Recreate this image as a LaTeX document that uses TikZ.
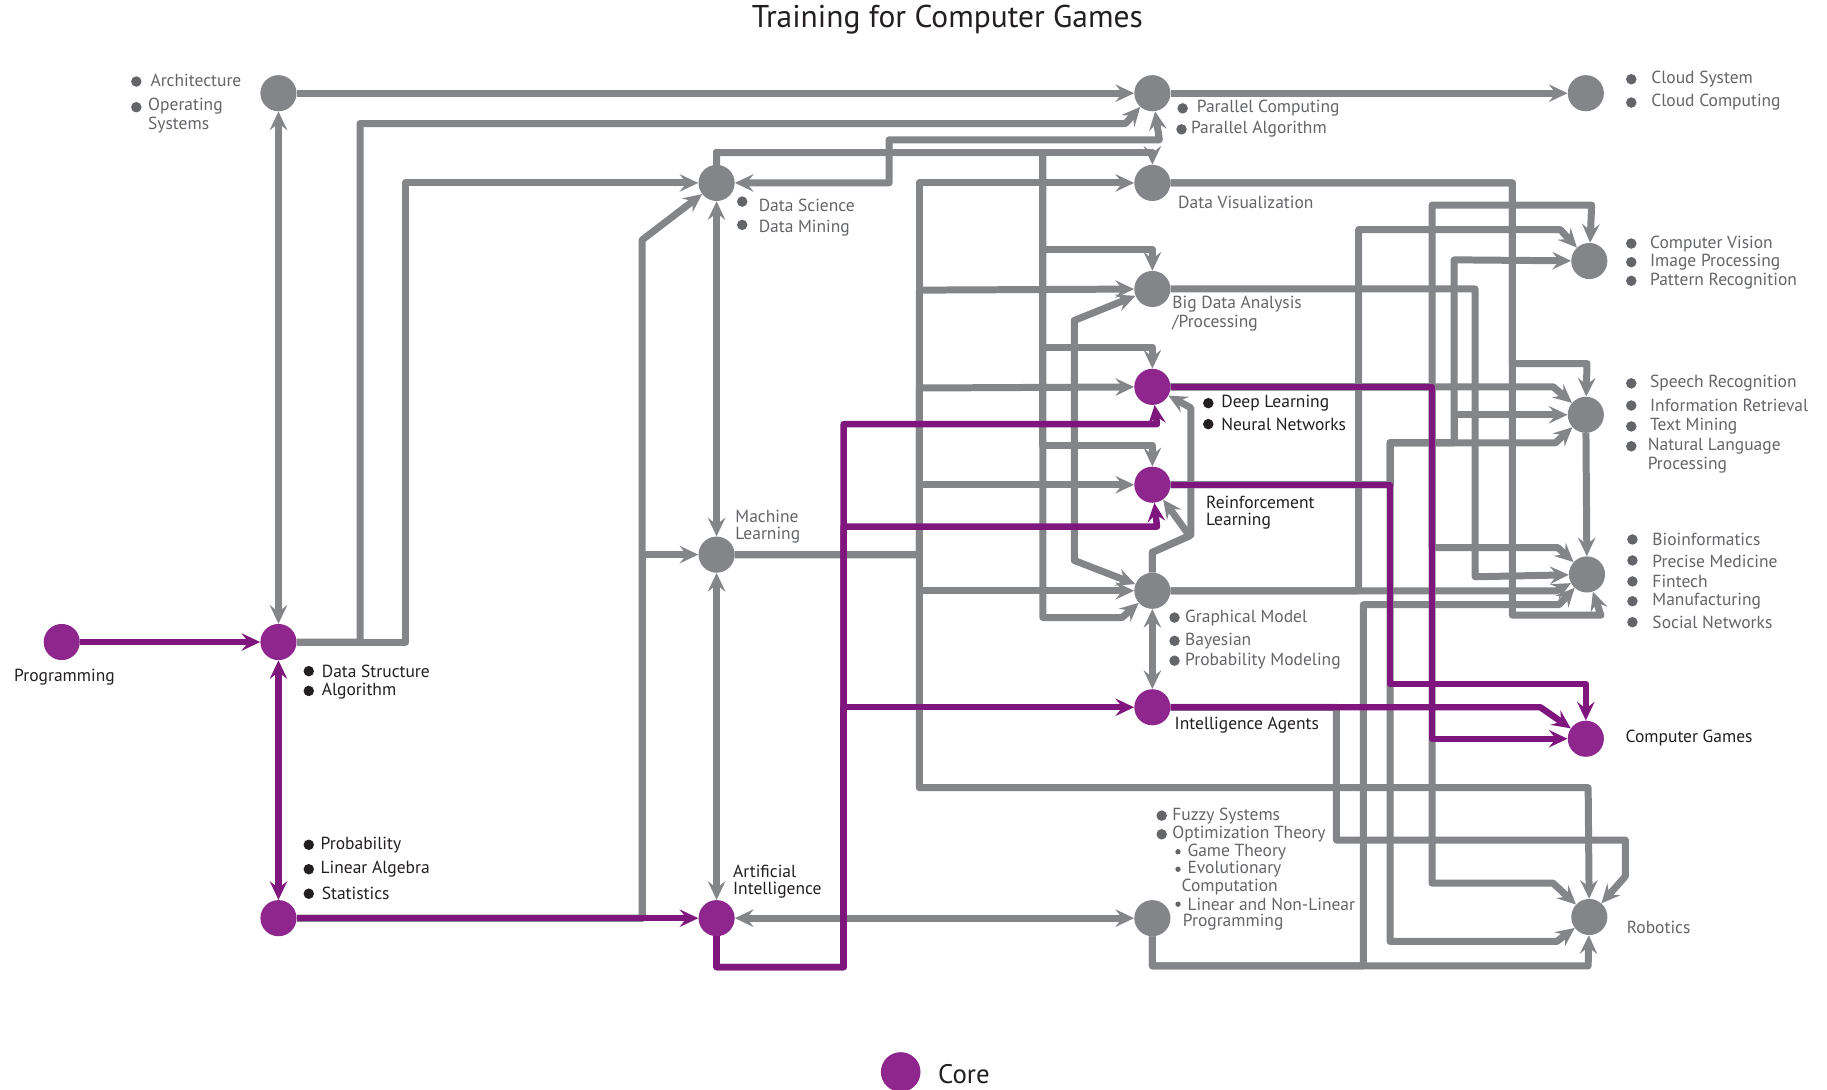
\documentclass[tikz,border=0pt]{standalone}
\usepackage{fontspec}
\setmainfont{PT Sans}
\usetikzlibrary{arrows.meta}
\definecolor{lgray}{RGB}{132,133,136}
\definecolor{tgray}{RGB}{100,101,104}
\definecolor{tdark}{RGB}{35,31,32}
\definecolor{cpurple}{RGB}{142,38,142}
\definecolor{lpurple}{RGB}{126,22,126}
\pgfdeclarelayer{bg}
\pgfdeclarelayer{mid}
\pgfsetlayers{bg,mid,main}
\tikzset{
  >={Stealth[length=16pt,width=15pt,inset=6pt]},
  gl/.style={draw=lgray, line width=6pt, line join=round},
  pl/.style={draw=lpurple, line width=5.5pt, line join=round},
  core/.style={circle, fill=cpurple, minimum size=31pt, inner sep=0pt},
  topic/.style={circle, fill=lgray, minimum size=31pt, inner sep=0pt},
  glab/.style={anchor=west, inner sep=0pt, font=\fontsize{15}{17}\selectfont, text=tgray},
  dlab/.style={glab, text=tdark},
}
\begin{document}
\begin{tikzpicture}[x=1pt,y=-1pt]
\useasboundingbox (0,0) rectangle (1568,935);
\begin{pgfonlayer}{bg}
\fill[white] (0,0) rectangle (1568,935);
\end{pgfonlayer}

% ---------- nodes ----------
\node[core]  (P)     at (53,551) {};
\node[core]  (DS)    at (239,551) {};
\node[topic] (Arch)  at (239,80) {};
\node[core]  (Math)  at (239,788) {};
\node[topic] (DSci)  at (615,157) {};
\node[topic] (ML)    at (615,476) {};
\node[core]  (AI)    at (615,788) {};
\node[topic] (Par)   at (989,80) {};
\node[topic] (Cloud) at (1361,80) {};
\node[topic] (DV)    at (989,157) {};
\node[topic] (BD)    at (989,248) {};
\node[core]  (DL)    at (989,332) {};
\node[core]  (RL)    at (989,416) {};
\node[topic] (GM)    at (989,507) {};
\node[core]  (IA)    at (989,607) {};
\node[topic] (Opt)   at (989,788) {};
\node[topic] (CV)    at (1364,224) {};
\node[topic] (Sp)    at (1361,356) {};
\node[topic] (Bio)   at (1362,493) {};
\node[core]  (CG)    at (1361,634) {};
\node[topic] (Rob)   at (1364,787) {};

% ---------- gray connectors ----------
\begin{pgfonlayer}{bg}
\draw[gl,<->] (DS) -- (Arch);
\draw[gl,->] (Arch) -- (Par);
\draw[gl,->] (Par) -- (Cloud);
\draw[gl,->] (DS) -- (309,551) -- (309,106) -- (966,106) -- (Par);
\draw[gl,->] (DS) -- (348,551) -- (348,157) -- (DSci);
\draw[gl,->] (Math) -- (551,788) -- (551,206) -- (DSci);
\draw[gl,->] (Math) -- (551,788) -- (551,476) -- (ML);
\draw[gl,<->] (DSci) -- (ML);
\draw[gl,<->] (ML) -- (AI);
\draw[gl,<->] (DSci) -- (763,157) -- (763,120) -- (995,120) -- (Par);
\draw[gl,->] (DSci) -- (615,131) -- (989,131) -- (DV);
\draw[gl,->] (DSci) -- (615,131) -- (895,131) -- (895,214) -- (989,214) -- (BD);
\draw[gl,->] (DSci) -- (615,131) -- (895,131) -- (895,298) -- (989,298) -- (DL);
\draw[gl,->] (DSci) -- (615,131) -- (895,131) -- (895,382) -- (989,382) -- (RL);
\draw[gl,->] (DSci) -- (615,131) -- (895,131) -- (895,530) -- (963,530) -- (GM);
\draw[gl,->] (ML) -- (789,476) -- (789,157) -- (DV);
\draw[gl,->] (ML) -- (789,476) -- (789,249) -- (BD);
\draw[gl,->] (ML) -- (789,476) -- (789,333) -- (DL);
\draw[gl,->] (ML) -- (789,476) -- (789,416) -- (RL);
\draw[gl,->] (ML) -- (789,476) -- (789,507) -- (GM);
\draw[gl,->] (ML) -- (789,476) -- (789,676) -- (1363,676) -- (Rob);
\draw[gl,<->] (GM) -- (922,481) -- (922,275) -- (BD);
\draw[gl,->] (GM) -- (989,474) -- (1021,460) -- (RL);
\draw[gl,->] (GM) -- (989,474) -- (1022,459) -- (1022,350) -- (DL);
\draw[gl,<->] (GM) -- (IA);
\draw[gl,->] (GM) -- (1336,507) -- (Bio);
\draw[gl,->] (GM) -- (1166,507) -- (1166,197) -- (1339,197) -- (CV);
\draw[gl,->] (IA) -- (1147,607) -- (1147,721) -- (1395,721) -- (1395,752) -- (Rob);
\draw[gl,<->] (AI) -- (Opt);
\draw[gl,->] (Opt) -- (989,829) -- (1363,829) -- (Rob);
\draw[gl,->] (Opt) -- (989,829) -- (1170,829) -- (1170,519) -- (1338,519) -- (Bio);
\draw[gl,->] (BD) -- (1266,248) -- (1266,495) -- (Bio);
\draw[gl,->] (DV) -- (1298,157) -- (1298,312) -- (1362,312) -- (Sp);
\draw[gl,->] (DV) -- (1298,157) -- (1298,528) -- (1374,528) -- (Bio);
\draw[gl,->] (DL) -- (1333,332) -- (Sp);
\draw[gl,->] (DL) -- (1229,332) -- (1229,176) -- (1366,176) -- (CV);
\draw[gl,->] (DL) -- (1229,332) -- (1229,470) -- (1337,470) -- (Bio);
\draw[gl,->] (DL) -- (1229,332) -- (1229,758) -- (1333,758) -- (Rob);
\draw[gl,->] (RL) -- (1193,416) -- (1193,380) -- (1335,380) -- (Sp);
\draw[gl,->] (RL) -- (1193,416) -- (1193,380) -- (1248,380) -- (1248,223) -- (CV);
\draw[gl,->] (RL) -- (1193,416) -- (1193,380) -- (1248,380) -- (1248,356) -- (Sp);
\draw[gl,->] (RL) -- (1193,416) -- (1193,808) -- (1336,808) -- (Rob);
\draw[gl,->] (Sp) -- (Bio);
\end{pgfonlayer}

% ---------- purple connectors ----------
\begin{pgfonlayer}{mid}
\draw[pl,->] (P) -- (DS);
\draw[pl,<->] (DS) -- (Math);
\draw[pl,->] (Math) -- (AI);
\draw[pl,->] (AI) -- (615,830) -- (724,830) -- (724,364) -- (993,364) -- (DL);
\draw[pl,->] (AI) -- (615,830) -- (724,830) -- (724,452) -- (993,452) -- (RL);
\draw[pl,->] (AI) -- (615,830) -- (724,830) -- (724,607) -- (IA);
\draw[pl,->] (DL) -- (1229,332) -- (1229,634) -- (CG);
\draw[pl,->] (RL) -- (1193,416) -- (1193,587) -- (1361,587) -- (CG);
\draw[pl,->] (IA) -- (1322,607) -- (CG);
\end{pgfonlayer}

% ---------- title and legend ----------
\node[font=\fontsize{27}{31}\selectfont, text=tdark] (title) at (813,17) {Training for Computer Games};
\node[core, minimum size=34pt] (legend) at (773,920) {};
\node[anchor=west, inner sep=0pt, font=\fontsize{23}{27}\selectfont, text=tdark] (legtext) at (805,922) {Core};

% ---------- labels ----------
\fill[tgray] (117,70) circle (4.5) (117,92) circle (4.5);
\node[glab] (tA1) at (129,69) {Architecture};
\node[glab] (tA2) at (127,91) {Operating};
\node[glab] (tA3) at (127,107) {Systems};

\fill[tgray] (1400,68) circle (4.5) (1400,88) circle (4.5);
\node[glab] (tC1) at (1417,68) {Cloud System};
\node[glab] (tC2) at (1417,88) {Cloud Computing};

\fill[tgray] (1015,93) circle (4.5) (1014,111) circle (4.5);
\node[glab] (tP1) at (1027,93) {Parallel Computing};
\node[glab] (tP2) at (1022,111) {Parallel Algorithm};

\fill[tgray] (637,173) circle (4.5) (637,193) circle (4.5);
\node[glab] (tS1) at (651,176) {Data Science};
\node[glab] (tS2) at (651,196) {Data Mining};

\node[glab] (tV1) at (1011,174) {Data Visualization};
\node[glab] (tB1) at (1006,261) {Big Data Analysis};
\node[glab] (tB2) at (1006,277) {/Processing};

\fill[tgray] (1400,209) circle (4.5) (1400,225) circle (4.5) (1400,241) circle (4.5);
\node[glab] (tV2) at (1416,209) {Computer Vision};
\node[glab] (tV3) at (1416,225) {Image Processing};
\node[glab] (tV4) at (1416,241) {Pattern Recognition};

\fill[tdark] (1037,346) circle (4.5) (1037,364) circle (4.5);
\node[dlab] (tD1) at (1048,346) {Deep Learning};
\node[dlab] (tD2) at (1048,364) {Neural Networks};

\fill[tgray] (1400,329) circle (4.5) (1400,348) circle (4.5) (1400,366) circle (4.5) (1400,383) circle (4.5);
\node[glab] (tR1) at (1416,329) {Speech Recognition};
\node[glab] (tR2) at (1416,348) {Information Retrieval};
\node[glab] (tR3) at (1416,366) {Text Mining};
\node[glab] (tR4) at (1414,383) {Natural Language};
\node[glab] (tR5) at (1414,399) {Processing};

\node[glab] (tM1) at (631,443) {Machine};
\node[glab] (tM2) at (631,459) {Learning};

\node[dlab] (tL1) at (1035,431) {Reinforcement};
\node[dlab] (tL2) at (1035,447) {Learning};

\fill[tgray] (1401,463) circle (4.5) (1401,481) circle (4.5) (1401,499) circle (4.5) (1401,516) circle (4.5) (1401,534) circle (4.5);
\node[glab] (tI1) at (1418,463) {Bioinformatics};
\node[glab] (tI2) at (1418,482) {Precise Medicine};
\node[glab] (tI3) at (1418,499) {Fintech};
\node[glab] (tI4) at (1418,516) {Manufacturing};
\node[glab] (tI5) at (1418,534) {Social Networks};

\fill[tgray] (1008,530) circle (4.5) (1008,550) circle (4.5) (1008,567) circle (4.5);
\node[glab] (tG1) at (1017,530) {Graphical Model};
\node[glab] (tG2) at (1017,550) {Bayesian};
\node[glab] (tG3) at (1017,567) {Probability Modeling};

\node[dlab] (tIA) at (1008,622) {Intelligence Agents};
\node[dlab] (tCG) at (1395,633) {Computer Games};
\node[dlab] (tPr) at (12,581) {Programming};

\fill[tdark] (265,576) circle (4.5) (265,593) circle (4.5);
\node[dlab] (tDS1) at (276,576) {Data Structure};
\node[dlab] (tDS2) at (276,593) {Algorithm};

\fill[tdark] (265,725) circle (4.5) (265,746) circle (4.5) (265,767) circle (4.5);
\node[dlab] (tMa1) at (275,725) {Probability};
\node[dlab] (tMa2) at (275,746) {Linear Algebra};
\node[dlab] (tMa3) at (276,767) {Statistics};

\node[dlab] (tAI1) at (629,748) {Artificial};
\node[dlab] (tAI2) at (629,764) {Intelligence};

\fill[tgray] (997,700) circle (4.5) (997,716) circle (4.5);
\fill[tgray] (1011,731) circle (2.3) (1011,746) circle (2.3) (1011,776) circle (2.3);
\node[glab] (tO1) at (1006,700) {Fuzzy Systems};
\node[glab] (tO2) at (1006,716) {Optimization Theory};
\node[glab] (tO3) at (1019,731) {Game Theory};
\node[glab] (tO4) at (1019,746) {Evolutionary};
\node[glab] (tO5) at (1014,761) {Computation};
\node[glab] (tO6) at (1019,776) {Linear and Non-Linear};
\node[glab] (tO7) at (1015,791) {Programming};

\node[glab] (tRob) at (1396,796) {Robotics};
\end{tikzpicture}
\end{document}
